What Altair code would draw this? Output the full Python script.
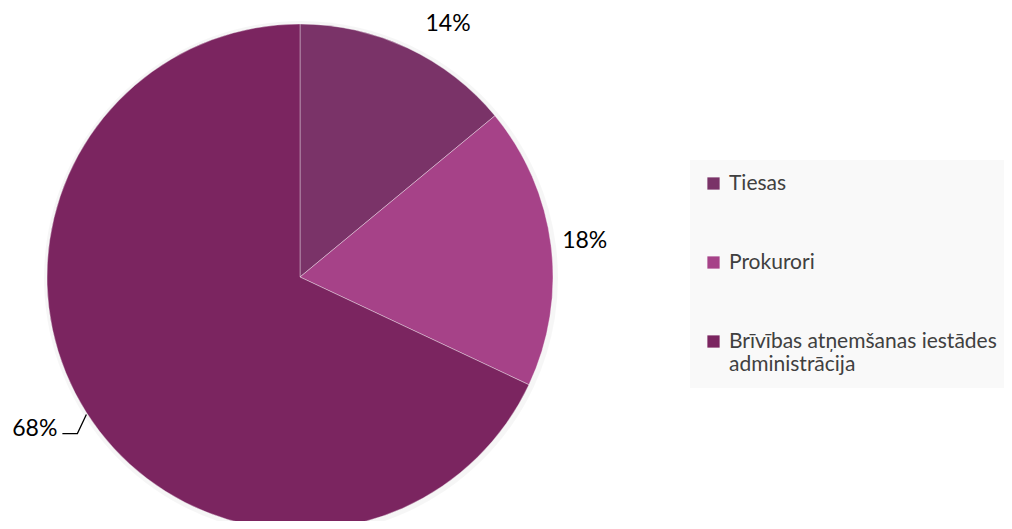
import altair as alt
import pandas as pd

categories = ["Tiesas", "Prokurori", "Brīvības atņemšanas iestādes administrācija"]
values = [14, 18, 68]
labels = ["14%", "18%", "68%"]
colors = ["#7A3368", "#A64288", "#7B2560"]

df = pd.DataFrame({"cat": categories, "value": values, "label": labels, "idx": [0, 1, 2]})

CX, CY, R = 292, 269, 253

base = alt.Chart(df)

color = alt.Color(
    "cat:N",
    scale=alt.Scale(domain=categories, range=colors),
    sort=categories,
    legend=alt.Legend(
        title=None,
        orient="none",
        legendX=682,
        legendY=152,
        fillColor="#F9F9F9",
        padding=13,
        symbolType="square",
        symbolSize=150,
        symbolStrokeWidth=0,
        labelFont="Lato",
        labelFontSize=21,
        labelColor="#404040",
        rowPadding=57,
        labelOffset=5,
        labelLimit=400,
        labelExpr="datum.label == 'Brīvības atņemšanas iestādes administrācija' ? ['Brīvības atņemšanas iestādes', 'administrācija'] : datum.label",
    ),
)

shadow = base.mark_arc(fill="#000000", opacity=0.035, radius=R + 4).encode(
    theta=alt.Theta("value:Q", stack=True),
    order=alt.Order("idx:Q"),
    x=alt.value(CX + 1),
    y=alt.value(CY + 1),
)

pie = base.mark_arc(radius=R, stroke="#ffffff", strokeWidth=0.8, strokeOpacity=0.45).encode(
    theta=alt.Theta("value:Q", stack=True),
    order=alt.Order("idx:Q"),
    color=color,
    x=alt.value(CX),
    y=alt.value(CY),
)

geo = (
    base.transform_window(cum="sum(value)", sort=[alt.SortField("idx")], frame=[None, 0])
    .transform_joinaggregate(total="sum(value)")
    .transform_calculate(mid="(datum.cum - datum.value / 2) / datum.total * 2 * PI")
)

txt = (
    geo.transform_filter("datum.idx < 2")
    .transform_calculate(
        ang="datum.idx == 0 ? datum.mid + 0.09 : datum.mid",
        rl="datum.idx == 0 ? 293 : 287",
    )
    .transform_calculate(
        lx=f"{CX} + datum.rl * sin(datum.ang)",
        ly=f"{CY} - datum.rl * cos(datum.ang)",
    )
    .mark_text(font="Lato", fontSize=23, color="#000000", align="center", baseline="middle")
    .encode(
        x=alt.X("lx:Q", scale=None),
        y=alt.Y("ly:Q", scale=None),
        text="label:N",
    )
)

leader_src = (
    geo.transform_filter("datum.idx == 2")
    .transform_calculate(
        ex=f"{CX} + {R} * sin(datum.mid)",
        ey=f"{CY} - {R} * cos(datum.mid) + 2",
    )
)

leader = (
    leader_src.transform_calculate(pts="[0, 1, 2]")
    .transform_flatten(["pts"])
    .transform_calculate(
        px="datum.pts == 0 ? datum.ex : (datum.pts == 1 ? datum.ex - 9 : datum.ex - 24)",
        py="datum.pts == 0 ? datum.ey : datum.ey + 19",
    )
    .mark_line(color="#000000", strokeWidth=1.3)
    .encode(
        x=alt.X("px:Q", scale=None),
        y=alt.Y("py:Q", scale=None),
        order="pts:Q",
    )
)

txt3 = (
    leader_src.transform_calculate(tx="datum.ex - 29", ty="datum.ey + 21")
    .mark_text(font="Lato", fontSize=23, color="#000000", align="right", baseline="alphabetic")
    .encode(
        x=alt.X("tx:Q", scale=None),
        y=alt.Y("ty:Q", scale=None),
        text="label:N",
    )
)

chart = (
    alt.layer(shadow, pie, leader, txt, txt3)
    .properties(width=996, height=513, padding=0, autosize=alt.AutoSizeParams(type="none"))
    .configure_view(stroke=None)
)

chart.save("out.html", embed_options={"renderer": "svg", "actions": False})
